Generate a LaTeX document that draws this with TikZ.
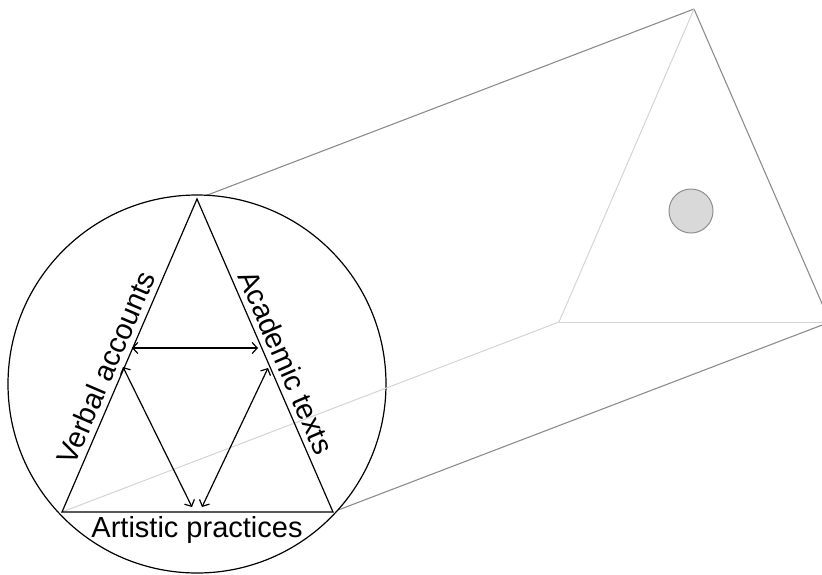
\documentclass[tikz,border=0pt]{standalone}
\usepackage{fontspec}
\setmainfont{Liberation Sans}
\usetikzlibrary{arrows.meta}
\definecolor{edgedark}{HTML}{8C8C8C}
\definecolor{edgelight}{HTML}{D4D4D4}
\definecolor{diskfill}{HTML}{D9D9D9}
\definecolor{diskline}{HTML}{8F8F8F}
\tikzset{
  darkedge/.style={draw=edgedark, line width=1.1pt},
  lightedge/.style={draw=edgelight, line width=1pt},
  blackline/.style={draw=black, line width=1.2pt},
  dblarrow/.style={blackline, {Straight Barb[length=5pt,width=11pt]}-{Straight Barb[length=5pt,width=11pt]}},
  lbl/.style={font=\fontsize{29}{31}\selectfont, inner xsep=0pt, inner ysep=6pt}
}
\begin{document}
\begin{tikzpicture}[x=1pt, y=-1pt]
\useasboundingbox (0,0) rectangle (822,574);
\clip (0,0) rectangle (822,574);
% named points
\coordinate (A) at (197,199);
\coordinate (L) at (62,512);
\coordinate (R) at (333,512);
\coordinate (A2) at (694,9);
\coordinate (L2) at (559,322);
\coordinate (R2) at (830,322);
\coordinate (O) at (197,384);
% visible prism edges
\draw[darkedge] (A) -- (A2);
\draw[darkedge] (R) -- (R2);
\draw[darkedge] (A2) -- (R2);
% circle
\node[circle, minimum size=378pt, inner sep=0pt, fill=white, blackline] (circ) at (O) {};
% hidden prism edges
\draw[lightedge] (L) -- (L2);
\draw[lightedge] (A2) -- (L2);
\draw[lightedge] (L2) -- (R2);
% grey disk
\node[circle, minimum size=44pt, inner sep=0pt, fill=diskfill, draw=diskline, line width=1pt] (disk) at (691,211) {};
% triangle
\draw[blackline, line join=miter] (A) -- (R) -- (L) -- cycle;
% labels
\path (L) -- (A) node[lbl, pos=0.44, sloped, above] (va) {Verbal accounts};
\path (A) -- (R) node[lbl, pos=0.543, sloped, above] (at) {Academic texts};
\node[lbl, anchor=north, inner ysep=0pt] (ap) at (197,516) {Artistic practices};
% arrows
\coordinate (h1) at (132,348);
\coordinate (h2) at (258,348);
\coordinate (d1) at (123,367);
\coordinate (d2) at (192,507);
\coordinate (e1) at (268,368);
\coordinate (e2) at (202,507);
\draw[dblarrow] (h1) -- (h2);
\draw[dblarrow] (d1) -- (d2);
\draw[dblarrow] (e1) -- (e2);
\end{tikzpicture}
\end{document}
